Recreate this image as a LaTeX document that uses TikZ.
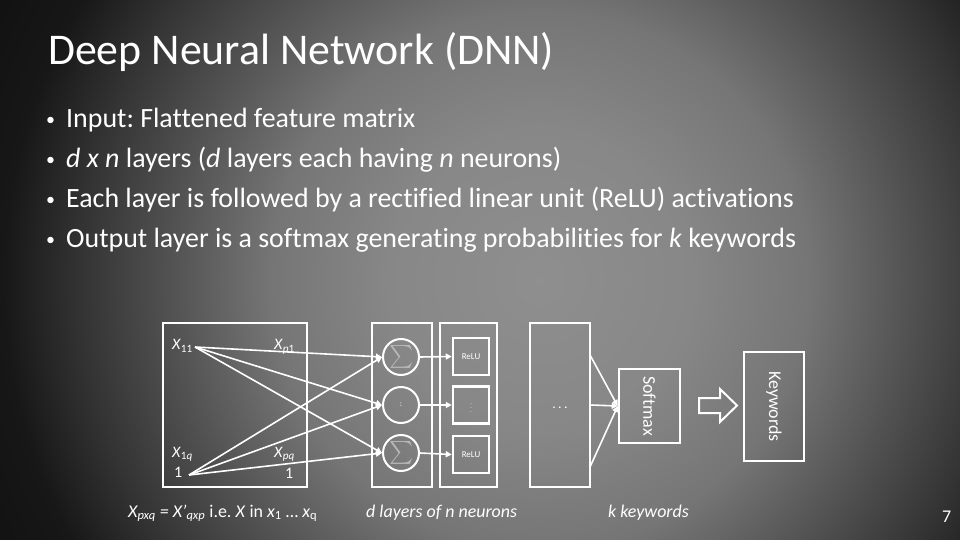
\documentclass[tikz,border=0pt]{standalone}
\usepackage{fontspec}
\setmainfont{Carlito}[Ligatures=CommonOff]
\usetikzlibrary{arrows.meta}
\frenchspacing
\definecolor{bgA}{gray}{0.56}
\definecolor{bgB}{gray}{0.53}
\definecolor{bgC}{gray}{0.46}
\definecolor{bgD}{gray}{0.32}
\definecolor{bgE}{gray}{0.20}
\definecolor{bgF}{gray}{0.09}
\definecolor{bgG}{gray}{0.06}
\definecolor{sigmagray}{gray}{0.72}
\pgfdeclareradialshading{slidebg}{\pgfpoint{0bp}{0bp}}{color(0bp)=(bgA); color(5.9bp)=(bgB); color(10.5bp)=(bgC); color(14.5bp)=(bgD); color(18bp)=(bgE); color(21bp)=(bgF); color(25bp)=(bgG); color(50bp)=(bgG)}
\begin{document}
\begin{tikzpicture}[x=1bp,y=-1bp,
  boxw/.style={draw=white, line width=2.5bp, inner sep=0pt},
  neuron/.style={draw=white, line width=2bp, circle, inner sep=0pt, minimum size=36bp},
  relubox/.style={draw=white, line width=2.5bp, inner sep=0pt, minimum width=36bp, minimum height=37bp, text=white, font=\fontsize{9}{10}\selectfont},
  conn/.style={draw=white, line width=1.6bp, -{Triangle[length=6bp,width=6bp]}},
  lbl/.style={text=white, inner sep=0pt},
  inlbl/.style={text=white, inner sep=0pt, anchor=base west, font=\fontsize{16}{18}\selectfont},
  bullet/.style={text=white, inner sep=0pt, anchor=base west, font=\fontsize{28}{32}\selectfont},
  bdot/.style={text=white, inner sep=0pt, anchor=base west, font=\fontsize{18}{22}\selectfont},
  caption/.style={text=white, inner sep=0pt, anchor=base west, font=\fontsize{18}{21}\selectfont\itshape}]
\useasboundingbox (0,0) rectangle (960,540);
\begin{scope}
  \clip (0,0) rectangle (960,540);
  \shade[shading=slidebg] (-100,-360) rectangle (1180,920);
\end{scope}

% title and bullets
\node[lbl, anchor=base west, font=\fontsize{44}{52}\selectfont] (title) at (48,65) {Deep Neural Network (DNN)};
\node[bdot] (b1) at (46,126) {•};
\node[bullet] (t1) at (66,128) {Input: Flattened feature matrix};
\node[bdot] (b2) at (46,166) {•};
\node[bullet] (t2) at (66,168) {\textit{d x n} layers (\textit{d} layers each having \textit{n} neurons)};
\node[bdot] (b3) at (46,206) {•};
\node[bullet] (t3) at (66,208) {Each layer is followed by a rectified linear unit (ReLU) activations};
\node[bdot] (b4) at (46,246) {•};
\node[bullet] (t4) at (66,248) {Output layer is a softmax generating probabilities for \textit{k} keywords};

% input box
\node[boxw, minimum width=144bp, minimum height=164bp] (inbox) at (235,405) {};
\node[inlbl] (x11) at (172,350) {\textit{X}\textsubscript{11}};
\node[inlbl] (xp1) at (274,350) {\textit{X}\textsubscript{\textit{p}1}};
\node[inlbl] (x1q) at (172,457) {\textit{X}\textsubscript{1\textit{q}}};
\node[inlbl] (one1) at (174,477) {1};
\node[inlbl] (xpq) at (274,457) {\textit{X}\textsubscript{\textit{pq}}};
\node[inlbl] (one2) at (285,478) {1};
\coordinate (o1) at (195,347);
\coordinate (o2) at (189,475);

% layer 1 : summation neurons
\node[boxw, minimum width=60bp, minimum height=164bp] (lay1) at (402,405) {};
\node[neuron] (c1) at (401,357) {};
\node[neuron] (c2) at (401,405) {};
\node[neuron] (c3) at (401,453) {};
\node[lbl, text=sigmagray] (s1) at (402,357) {\scalebox{2.3}{$\sum$}};
\node[lbl, text=sigmagray] (s3) at (402,453) {\scalebox{2.3}{$\sum$}};
\node[lbl, font=\fontsize{8}{9}\selectfont] (cd) at (c2) {:};

% layer 2 : ReLU
\node[boxw, minimum width=57bp, minimum height=164bp] (lay2) at (468.5,405) {};
\node[relubox] (r1) at (471,356.5) {ReLU};
\node[relubox, font=\fontsize{6}{4}\selectfont] (r2) at (471,405) {$\vdots$};
\node[relubox] (r3) at (471,454.5) {ReLU};

% more layers
\node[boxw, minimum width=60bp, minimum height=164bp] (lay3) at (560,405) {};
\node[lbl, font=\fontsize{14}{16}\selectfont] (dots) at (560,408) {.\,.\,.};
\coordinate (d1) at (590,355);
\coordinate (d3) at (590,467);

% softmax and keywords
\node[boxw, minimum width=61bp, minimum height=74bp] (soft) at (649.5,406) {};
\node[lbl, rotate=-90, font=\fontsize{18}{21}\selectfont] (softt) at (soft) {Softmax};
\node[boxw, minimum width=60bp, minimum height=109bp] (kw) at (774,406.5) {};
\node[lbl, rotate=-90, font=\fontsize{18}{21}\selectfont] (kwt) at (kw) {Keywords};

% connectors
\foreach \o in {o1,o2}{
  \foreach \c in {c1,c2,c3}{
    \draw[conn] (\o) -- (\c.west);
  }
}
\draw[conn] (c1.east) -- (r1.west);
\draw[conn] (c2.east) -- (r2.west);
\draw[conn] (c3.east) -- (r3.west);
\draw[conn] (d1) -- (soft.west);
\draw[conn] (lay3.east) -- (soft.west);
\draw[conn] (d3) -- (soft.west);

% block arrow
\draw[draw=white, line width=2bp, line join=miter] (699,398) -- (720,398) -- (720,389) -- (737,405.5) -- (720,422) -- (720,413) -- (699,413) -- cycle;

% captions
\node[caption] (cap1) at (128,517) {\textit{X}\textsubscript{\textit{pxq}} = \textit{X'}\textsubscript{\textit{qxp}}\upshape{} i.e. \textit{X} in \textit{x}\textsubscript{1} … \textit{x}\textsubscript{q}};
\node[caption] (cap2) at (366,517) {d layers of n neurons};
\node[caption] (cap3) at (608,517) {k keywords};
\node[lbl, anchor=base west, font=\fontsize{18}{21}\selectfont] (page) at (942,522) {7};
\end{tikzpicture}
\end{document}
